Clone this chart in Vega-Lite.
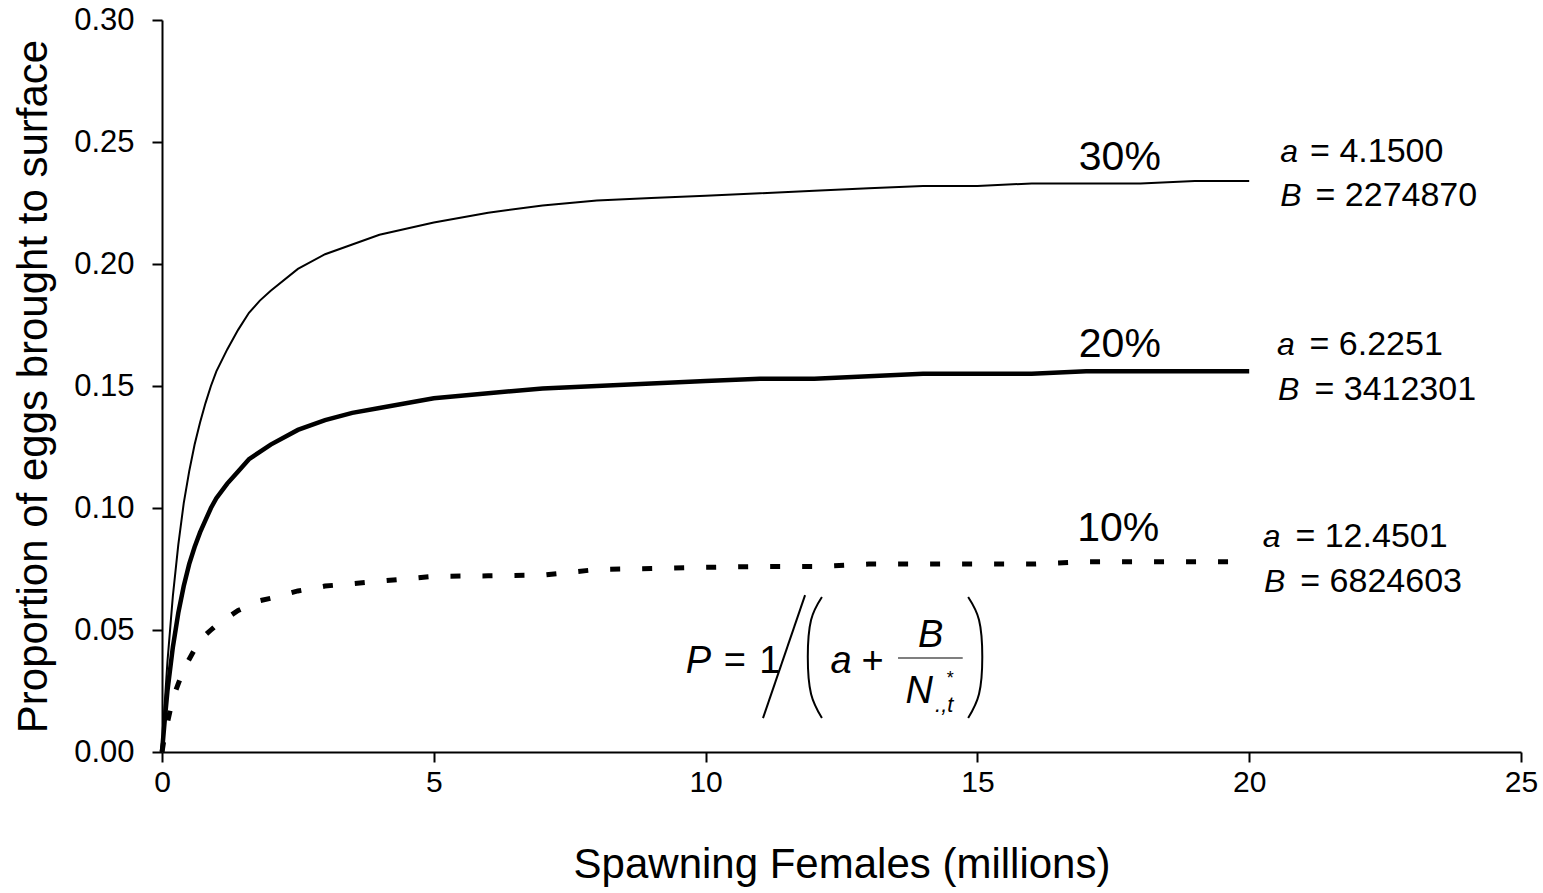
{
  "$schema": "https://vega.github.io/schema/vega-lite/v6.json",
  "width": 1359,
  "height": 732,
  "autosize": {"type": "none"},
  "padding": {"left": 162, "top": 20, "right": 22, "bottom": 141},
  "background": "white",
  "config": {
    "view": {"stroke": null},
    "font": "Liberation Sans",
    "axis": {"grid": false, "domainColor": "black", "domainWidth": 2, "tickColor": "black", "tickWidth": 2, "tickSize": 10, "labelColor": "black", "titleColor": "black", "labelFont": "Liberation Sans", "titleFont": "Liberation Sans", "titleFontWeight": "normal"}
  },
  "datasets": {
    "curves": [
      {"series": "30%", "x": 0, "p": 0}, {"series": "30%", "x": 0.05, "p": 0.020}, {"series": "30%", "x": 0.1, "p": 0.037}, {"series": "30%", "x": 0.2, "p": 0.064}, {"series": "30%", "x": 0.3, "p": 0.085}, {"series": "30%", "x": 0.4, "p": 0.102}, {"series": "30%", "x": 0.5, "p": 0.115}, {"series": "30%", "x": 0.6, "p": 0.126}, {"series": "30%", "x": 0.7, "p": 0.135}, {"series": "30%", "x": 0.8, "p": 0.143}, {"series": "30%", "x": 0.9, "p": 0.150}, {"series": "30%", "x": 1.0, "p": 0.156}, {"series": "30%", "x": 1.2, "p": 0.165}, {"series": "30%", "x": 1.4, "p": 0.173}, {"series": "30%", "x": 1.6, "p": 0.180}, {"series": "30%", "x": 1.8, "p": 0.185}, {"series": "30%", "x": 2.0, "p": 0.189}, {"series": "30%", "x": 2.5, "p": 0.198}, {"series": "30%", "x": 3, "p": 0.204}, {"series": "30%", "x": 3.5, "p": 0.208}, {"series": "30%", "x": 4, "p": 0.212}, {"series": "30%", "x": 5, "p": 0.217}, {"series": "30%", "x": 6, "p": 0.221}, {"series": "30%", "x": 7, "p": 0.224}, {"series": "30%", "x": 8, "p": 0.226}, {"series": "30%", "x": 9, "p": 0.227}, {"series": "30%", "x": 10, "p": 0.228}, {"series": "30%", "x": 11, "p": 0.229}, {"series": "30%", "x": 12, "p": 0.230}, {"series": "30%", "x": 13, "p": 0.231}, {"series": "30%", "x": 14, "p": 0.232}, {"series": "30%", "x": 15, "p": 0.232}, {"series": "30%", "x": 16, "p": 0.233}, {"series": "30%", "x": 17, "p": 0.233}, {"series": "30%", "x": 18, "p": 0.233}, {"series": "30%", "x": 19, "p": 0.234}, {"series": "30%", "x": 20, "p": 0.234},
      {"series": "20%", "x": 0, "p": 0}, {"series": "20%", "x": 0.05, "p": 0.013}, {"series": "20%", "x": 0.1, "p": 0.025}, {"series": "20%", "x": 0.2, "p": 0.043}, {"series": "20%", "x": 0.3, "p": 0.057}, {"series": "20%", "x": 0.4, "p": 0.068}, {"series": "20%", "x": 0.5, "p": 0.077}, {"series": "20%", "x": 0.6, "p": 0.084}, {"series": "20%", "x": 0.7, "p": 0.090}, {"series": "20%", "x": 0.8, "p": 0.095}, {"series": "20%", "x": 0.9, "p": 0.100}, {"series": "20%", "x": 1.0, "p": 0.104}, {"series": "20%", "x": 1.2, "p": 0.110}, {"series": "20%", "x": 1.4, "p": 0.115}, {"series": "20%", "x": 1.6, "p": 0.120}, {"series": "20%", "x": 1.8, "p": 0.123}, {"series": "20%", "x": 2.0, "p": 0.126}, {"series": "20%", "x": 2.5, "p": 0.132}, {"series": "20%", "x": 3, "p": 0.136}, {"series": "20%", "x": 3.5, "p": 0.139}, {"series": "20%", "x": 4, "p": 0.141}, {"series": "20%", "x": 5, "p": 0.145}, {"series": "20%", "x": 6, "p": 0.147}, {"series": "20%", "x": 7, "p": 0.149}, {"series": "20%", "x": 8, "p": 0.150}, {"series": "20%", "x": 9, "p": 0.151}, {"series": "20%", "x": 10, "p": 0.152}, {"series": "20%", "x": 11, "p": 0.153}, {"series": "20%", "x": 12, "p": 0.153}, {"series": "20%", "x": 13, "p": 0.154}, {"series": "20%", "x": 14, "p": 0.155}, {"series": "20%", "x": 15, "p": 0.155}, {"series": "20%", "x": 16, "p": 0.155}, {"series": "20%", "x": 17, "p": 0.156}, {"series": "20%", "x": 18, "p": 0.156}, {"series": "20%", "x": 19, "p": 0.156}, {"series": "20%", "x": 20, "p": 0.156},
      {"series": "10%", "x": 0, "p": 0}, {"series": "10%", "x": 0.05, "p": 0.007}, {"series": "10%", "x": 0.1, "p": 0.012}, {"series": "10%", "x": 0.2, "p": 0.022}, {"series": "10%", "x": 0.3, "p": 0.028}, {"series": "10%", "x": 0.4, "p": 0.034}, {"series": "10%", "x": 0.5, "p": 0.038}, {"series": "10%", "x": 0.6, "p": 0.042}, {"series": "10%", "x": 0.7, "p": 0.045}, {"series": "10%", "x": 0.8, "p": 0.048}, {"series": "10%", "x": 0.9, "p": 0.050}, {"series": "10%", "x": 1.0, "p": 0.052}, {"series": "10%", "x": 1.2, "p": 0.055}, {"series": "10%", "x": 1.4, "p": 0.058}, {"series": "10%", "x": 1.6, "p": 0.060}, {"series": "10%", "x": 1.8, "p": 0.062}, {"series": "10%", "x": 2.0, "p": 0.063}, {"series": "10%", "x": 2.5, "p": 0.066}, {"series": "10%", "x": 3, "p": 0.068}, {"series": "10%", "x": 3.5, "p": 0.069}, {"series": "10%", "x": 4, "p": 0.070}, {"series": "10%", "x": 5, "p": 0.072}, {"series": "10%", "x": 6, "p": 0.0722}, {"series": "10%", "x": 7, "p": 0.0725}, {"series": "10%", "x": 8, "p": 0.0748}, {"series": "10%", "x": 9, "p": 0.0752}, {"series": "10%", "x": 10, "p": 0.0757}, {"series": "10%", "x": 11, "p": 0.076}, {"series": "10%", "x": 12, "p": 0.076}, {"series": "10%", "x": 13, "p": 0.077}, {"series": "10%", "x": 14, "p": 0.077}, {"series": "10%", "x": 15, "p": 0.077}, {"series": "10%", "x": 16, "p": 0.077}, {"series": "10%", "x": 17, "p": 0.078}, {"series": "10%", "x": 18, "p": 0.078}, {"series": "10%", "x": 19, "p": 0.078}, {"series": "10%", "x": 20, "p": 0.078}
    ],
    "pctLabels": [
      {"x": 17.62, "y": 0.2385, "text": "30%"},
      {"x": 17.62, "y": 0.1619, "text": "20%"},
      {"x": 17.59, "y": 0.0865, "text": "10%"}
    ],
    "paramLetters": [
      {"x": 20.57, "y": 0.2418, "text": "a"},
      {"x": 20.57, "y": 0.2238, "text": "B"},
      {"x": 20.51, "y": 0.1627, "text": "a"},
      {"x": 20.53, "y": 0.1443, "text": "B"},
      {"x": 20.25, "y": 0.0840, "text": "a"},
      {"x": 20.27, "y": 0.0656, "text": "B"}
    ],
    "paramValues": [
      {"x": 21.12, "y": 0.2418, "text": "= 4.1500"},
      {"x": 21.22, "y": 0.2238, "text": "= 2274870"},
      {"x": 21.11, "y": 0.1627, "text": "= 6.2251"},
      {"x": 21.20, "y": 0.1443, "text": "= 3412301"},
      {"x": 20.85, "y": 0.0840, "text": "= 12.4501"},
      {"x": 20.94, "y": 0.0656, "text": "= 6824603"}
    ],
    "formulaItalic": [
      {"x": 9.87, "y": 0.0324, "text": "P"},
      {"x": 12.49, "y": 0.0324, "text": "a"},
      {"x": 14.14, "y": 0.0430, "text": "B"},
      {"x": 13.93, "y": 0.0201, "text": "N"}
    ],
    "formulaUpright": [
      {"x": 10.54, "y": 0.0324, "text": "="},
      {"x": 11.18, "y": 0.0324, "text": "1"},
      {"x": 13.07, "y": 0.0324, "text": "+"}
    ],
    "formulaSup": [
      {"x": 14.50, "y": 0.0279, "text": "*"}
    ],
    "formulaSub": [
      {"x": 14.39, "y": 0.0164, "text": ".,t"}
    ],
    "slash": [
      {"x": 11.056, "y": 0.0139, "x2": 11.83, "y2": 0.0643}
    ],
    "bar": [
      {"x": 13.54, "x2": 14.73, "y": 0.0385}
    ],
    "parens": [
      {"side": "L", "i": 0, "x": 12.14, "y": 0.0635},
      {"side": "L", "i": 1, "x": 11.94, "y": 0.0541},
      {"side": "L", "i": 2, "x": 11.88, "y": 0.0389},
      {"side": "L", "i": 3, "x": 11.94, "y": 0.0238},
      {"side": "L", "i": 4, "x": 12.14, "y": 0.0139},
      {"side": "R", "i": 0, "x": 14.83, "y": 0.0635},
      {"side": "R", "i": 1, "x": 15.03, "y": 0.0541},
      {"side": "R", "i": 2, "x": 15.09, "y": 0.0389},
      {"side": "R", "i": 3, "x": 15.03, "y": 0.0238},
      {"side": "R", "i": 4, "x": 14.83, "y": 0.0139}
    ]
  },
  "layer": [
    {
      "data": {"name": "curves"},
      "transform": [{"filter": "datum.series === '30%'"}],
      "mark": {"type": "line", "color": "black", "strokeWidth": 2},
      "encoding": {
        "x": {"field": "x", "type": "quantitative", "scale": {"domain": [0, 25], "nice": false},
          "axis": {"title": "Spawning Females (millions)", "values": [0, 5, 10, 15, 20, 25], "labelFontSize": 30, "titleFontSize": 42, "labelPadding": 5, "titlePadding": 47, "labelFlush": false}},
        "y": {"field": "p", "type": "quantitative", "scale": {"domain": [0, 0.3], "nice": false},
          "axis": {"title": "Proportion of eggs brought to surface", "values": [0, 0.05, 0.1, 0.15, 0.2, 0.25, 0.3], "format": ".2f", "labelFontSize": 31, "titleFontSize": 42, "labelPadding": 18, "titlePadding": 18, "labelFlush": false}}
      }
    },
    {
      "data": {"name": "curves"},
      "transform": [{"filter": "datum.series === '20%'"}],
      "mark": {"type": "line", "color": "black", "strokeWidth": 4.5},
      "encoding": {"x": {"field": "x", "type": "quantitative"}, "y": {"field": "p", "type": "quantitative"}}
    },
    {
      "data": {"name": "curves"},
      "transform": [{"filter": "datum.series === '10%'"}],
      "mark": {"type": "line", "color": "black", "strokeWidth": 5, "strokeDash": [10, 22]},
      "encoding": {"x": {"field": "x", "type": "quantitative"}, "y": {"field": "p", "type": "quantitative"}}
    },
    {
      "data": {"name": "pctLabels"},
      "mark": {"type": "text", "fontSize": 41, "align": "center", "baseline": "alphabetic", "color": "black"},
      "encoding": {"x": {"field": "x", "type": "quantitative"}, "y": {"field": "y", "type": "quantitative"}, "text": {"field": "text"}}
    },
    {
      "data": {"name": "paramLetters"},
      "mark": {"type": "text", "fontSize": 32, "fontStyle": "italic", "align": "left", "baseline": "alphabetic", "color": "black"},
      "encoding": {"x": {"field": "x", "type": "quantitative"}, "y": {"field": "y", "type": "quantitative"}, "text": {"field": "text"}}
    },
    {
      "data": {"name": "paramValues"},
      "mark": {"type": "text", "fontSize": 34, "align": "left", "baseline": "alphabetic", "color": "black"},
      "encoding": {"x": {"field": "x", "type": "quantitative"}, "y": {"field": "y", "type": "quantitative"}, "text": {"field": "text"}}
    },
    {
      "data": {"name": "formulaItalic"},
      "mark": {"type": "text", "fontSize": 38, "fontStyle": "italic", "align": "center", "baseline": "alphabetic", "color": "black"},
      "encoding": {"x": {"field": "x", "type": "quantitative"}, "y": {"field": "y", "type": "quantitative"}, "text": {"field": "text"}}
    },
    {
      "data": {"name": "formulaUpright"},
      "mark": {"type": "text", "fontSize": 38, "align": "center", "baseline": "alphabetic", "color": "black"},
      "encoding": {"x": {"field": "x", "type": "quantitative"}, "y": {"field": "y", "type": "quantitative"}, "text": {"field": "text"}}
    },
    {
      "data": {"name": "formulaSup"},
      "mark": {"type": "text", "fontSize": 18, "align": "center", "baseline": "alphabetic", "color": "black"},
      "encoding": {"x": {"field": "x", "type": "quantitative"}, "y": {"field": "y", "type": "quantitative"}, "text": {"field": "text"}}
    },
    {
      "data": {"name": "formulaSub"},
      "mark": {"type": "text", "fontSize": 22, "fontStyle": "italic", "align": "center", "baseline": "alphabetic", "color": "black"},
      "encoding": {"x": {"field": "x", "type": "quantitative"}, "y": {"field": "y", "type": "quantitative"}, "text": {"field": "text"}}
    },
    {
      "data": {"name": "slash"},
      "mark": {"type": "rule", "color": "black", "strokeWidth": 2},
      "encoding": {"x": {"field": "x", "type": "quantitative"}, "y": {"field": "y", "type": "quantitative"}, "x2": {"field": "x2"}, "y2": {"field": "y2"}}
    },
    {
      "data": {"name": "bar"},
      "mark": {"type": "rule", "color": "#555555", "strokeWidth": 1.5},
      "encoding": {"x": {"field": "x", "type": "quantitative"}, "x2": {"field": "x2"}, "y": {"field": "y", "type": "quantitative"}}
    },
    {
      "data": {"name": "parens"},
      "mark": {"type": "line", "color": "black", "strokeWidth": 2, "interpolate": "natural"},
      "encoding": {"x": {"field": "x", "type": "quantitative"}, "y": {"field": "y", "type": "quantitative"}, "detail": {"field": "side"}, "order": {"field": "i"}}
    }
  ]
}
